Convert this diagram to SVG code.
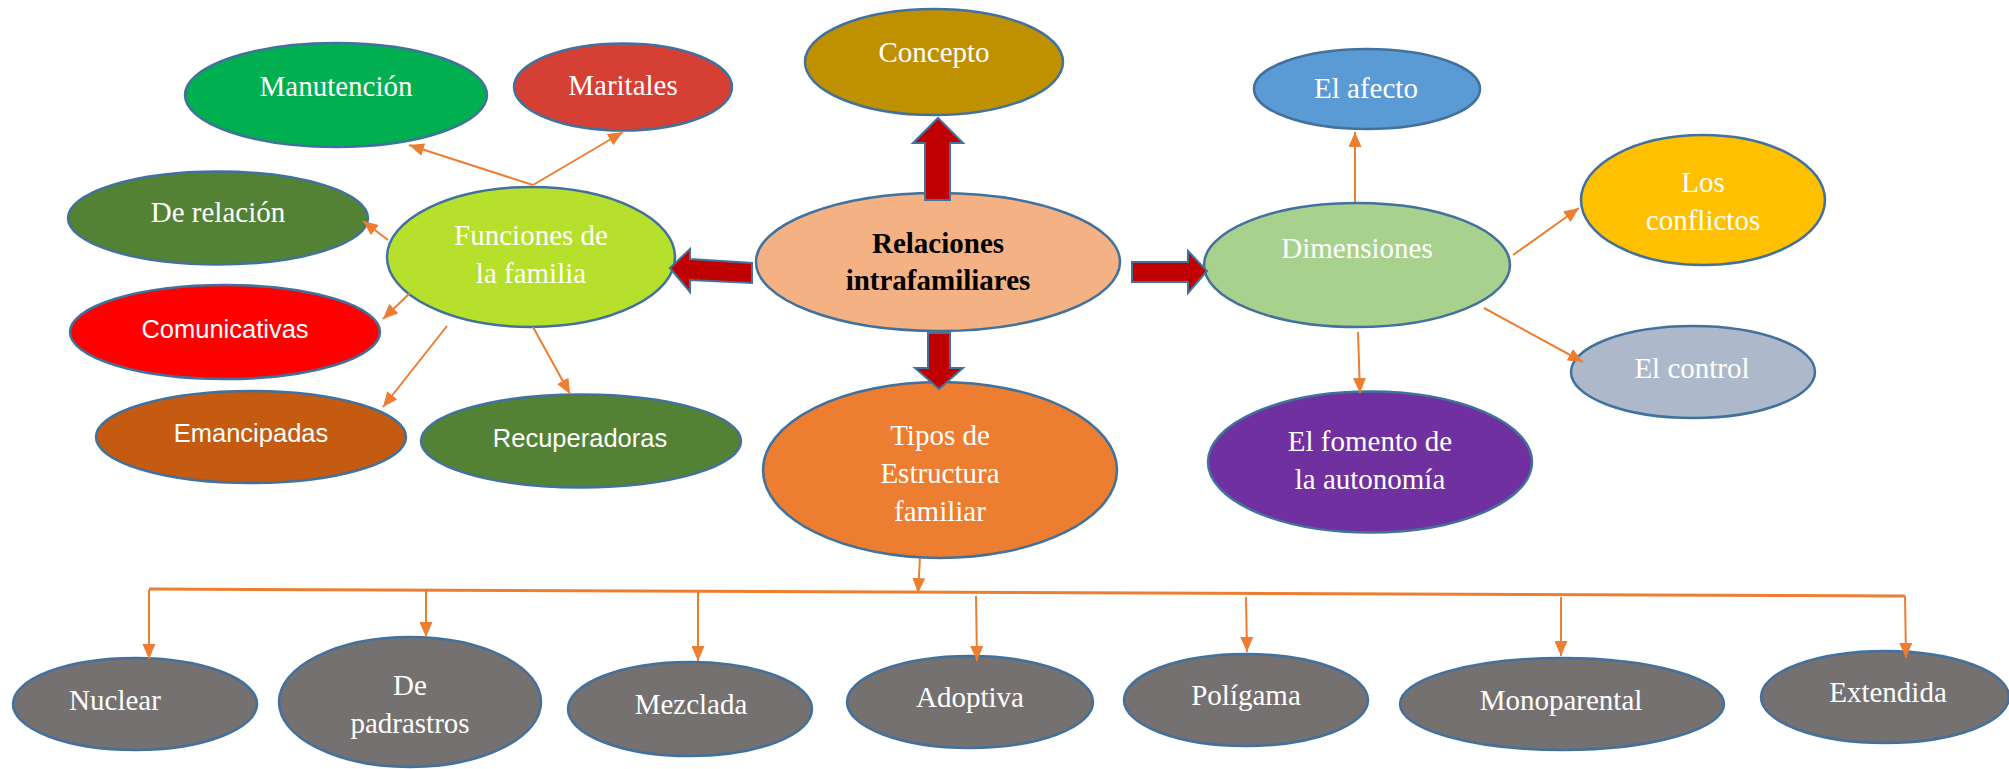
<svg xmlns="http://www.w3.org/2000/svg" width="2009" height="769" viewBox="0 0 2009 769">
<style>
.n{stroke:#41719C;stroke-width:2.5}
.t{font-family:"Liberation Serif","Times New Roman",serif;font-size:29px;fill:#FFFFFF;text-anchor:middle}
.b{font-weight:bold;fill:#000000}
.s{font-family:"Liberation Sans",Arial,sans-serif;font-size:25.5px;fill:#FFFFFF;text-anchor:middle}
.c{stroke:#ED7D31;stroke-width:2;fill:none;marker-end:url(#ah)}
.bus{stroke:#ED7D31;stroke-width:3;fill:none}
.blk{fill:#C00000;stroke:#41719C;stroke-width:2;stroke-linejoin:miter}
</style>
<defs>
<marker id="ah" markerUnits="userSpaceOnUse" markerWidth="15" markerHeight="13" refX="15" refY="6.5" orient="auto">
<path d="M0,0 L15,6.5 L0,13 z" fill="#ED7D31"/>
</marker>
</defs>
<rect width="2009" height="769" fill="#FFFFFF"/>

<g id="manutencion"><ellipse class="n" cx="336" cy="95" rx="151" ry="52" fill="#00B050"/><text class="t" x="336" y="96">Manutención</text></g>
<g id="maritales"><ellipse class="n" cx="623" cy="87" rx="109" ry="43.5" fill="#D63F33"/><text class="t" x="623" y="95">Maritales</text></g>
<g id="concepto"><ellipse class="n" cx="934" cy="62" rx="129" ry="53" fill="#BF9000"/><text class="t" x="934" y="62">Concepto</text></g>
<g id="de-relacion"><ellipse class="n" cx="218" cy="218" rx="150" ry="46.5" fill="#548235"/><text class="t" x="218" y="222">De relación</text></g>
<g id="funciones"><ellipse class="n" cx="531" cy="257" rx="144" ry="70" fill="#B7E02C"/><text class="t" x="531" y="245">Funciones de</text><text class="t" x="531" y="283">la familia</text></g>
<g id="relaciones"><ellipse class="n" cx="938" cy="262" rx="182" ry="69" fill="#F4B183"/><text class="t b" x="938" y="253">Relaciones</text><text class="t b" x="938" y="290">intrafamiliares</text></g>
<g id="dimensiones"><ellipse class="n" cx="1357" cy="265" rx="153" ry="62" fill="#A9D18E"/><text class="t" x="1357" y="258">Dimensiones</text></g>
<g id="el-afecto"><ellipse class="n" cx="1367" cy="89" rx="113" ry="40" fill="#5B9BD5"/><text class="t" x="1366" y="98">El afecto</text></g>
<g id="los-conflictos"><ellipse class="n" cx="1703" cy="200" rx="122" ry="65" fill="#FFC000"/><text class="t" x="1703" y="192">Los</text><text class="t" x="1703" y="230">conflictos</text></g>
<g id="el-control"><ellipse class="n" cx="1693" cy="372" rx="122" ry="46" fill="#ADB9CA"/><text class="t" x="1692" y="378">El control</text></g>
<g id="el-fomento"><ellipse class="n" cx="1370" cy="462" rx="162" ry="70.5" fill="#7030A0"/><text class="t" x="1370" y="451">El fomento de</text><text class="t" x="1370" y="489">la autonomía</text></g>
<g id="comunicativas"><ellipse class="n" cx="225" cy="332" rx="155" ry="47" fill="#FF0000"/><text class="s" x="225" y="338">Comunicativas</text></g>
<g id="emancipadas"><ellipse class="n" cx="251" cy="437" rx="155" ry="46" fill="#C55A11"/><text class="s" x="251" y="442">Emancipadas</text></g>
<g id="recuperadoras"><ellipse class="n" cx="581" cy="441" rx="160" ry="46.5" fill="#548235"/><text class="s" x="580" y="447">Recuperadoras</text></g>
<g id="tipos"><ellipse class="n" cx="940" cy="470" rx="177" ry="88" fill="#ED7D31"/><text class="t" x="940" y="445">Tipos de</text><text class="t" x="940" y="483">Estructura</text><text class="t" x="940" y="521">familiar</text></g>
<g id="nuclear"><ellipse class="n" cx="135" cy="704" rx="122" ry="46" fill="#767171"/><text class="t" x="115" y="710">Nuclear</text></g>
<g id="padrastros"><ellipse class="n" cx="410" cy="702" rx="131" ry="65" fill="#767171"/><text class="t" x="410" y="695">De</text><text class="t" x="410" y="733">padrastros</text></g>
<g id="mezclada"><ellipse class="n" cx="690" cy="709" rx="122" ry="47" fill="#767171"/><text class="t" x="691" y="714">Mezclada</text></g>
<g id="adoptiva"><ellipse class="n" cx="970" cy="702" rx="123" ry="46" fill="#767171"/><text class="t" x="970" y="707">Adoptiva</text></g>
<g id="poligama"><ellipse class="n" cx="1246" cy="700" rx="122" ry="46" fill="#767171"/><text class="t" x="1246" y="705">Polígama</text></g>
<g id="monoparental"><ellipse class="n" cx="1562" cy="704" rx="162" ry="46" fill="#767171"/><text class="t" x="1561" y="710">Monoparental</text></g>
<g id="extendida"><ellipse class="n" cx="1885" cy="697" rx="124" ry="46" fill="#767171"/><text class="t" x="1888" y="702">Extendida</text></g>

<g id="connectors">
<polygon class="blk" points="670,268 690,249 690,259 752,263 752,283 690,280 690,292"/>
<polygon class="blk" points="925,200 925,143 913,143 938,118 963,143 950,143 950,200"/>
<polygon class="blk" points="1132,262 1188,262 1188,251 1207,271 1188,293 1188,282 1132,282"/>
<polygon class="blk" points="928,333 950,333 950,368 963,368 939,389 915,368 928,368"/>
<line class="c" x1="533" y1="185" x2="409" y2="145"/>
<line class="c" x1="533" y1="185" x2="623" y2="132"/>
<line class="c" x1="388" y1="240" x2="363" y2="221"/>
<line class="c" x1="410" y1="293" x2="383" y2="319"/>
<line class="c" x1="447" y1="326" x2="383" y2="407"/>
<line class="c" x1="533" y1="327" x2="570" y2="394"/>
<line class="c" x1="1355" y1="202" x2="1355" y2="132"/>
<line class="c" x1="1513" y1="255" x2="1579" y2="208"/>
<line class="c" x1="1358" y1="332" x2="1360" y2="393"/>
<line class="c" x1="1484" y1="308" x2="1583" y2="362"/>
<line class="c" x1="920" y1="558" x2="918" y2="593"/>
<line class="bus" x1="149" y1="589" x2="1905" y2="596"/>
<line class="c" x1="149" y1="590" x2="149" y2="659"/>
<line class="c" x1="426" y1="591" x2="426" y2="637"/>
<line class="c" x1="698" y1="592" x2="698" y2="661"/>
<line class="c" x1="976" y1="596" x2="977" y2="661"/>
<line class="c" x1="1246" y1="597" x2="1247" y2="652"/>
<line class="c" x1="1561" y1="597" x2="1561" y2="656"/>
<line class="c" x1="1905" y1="596" x2="1906" y2="658"/>
</g>
</svg>
